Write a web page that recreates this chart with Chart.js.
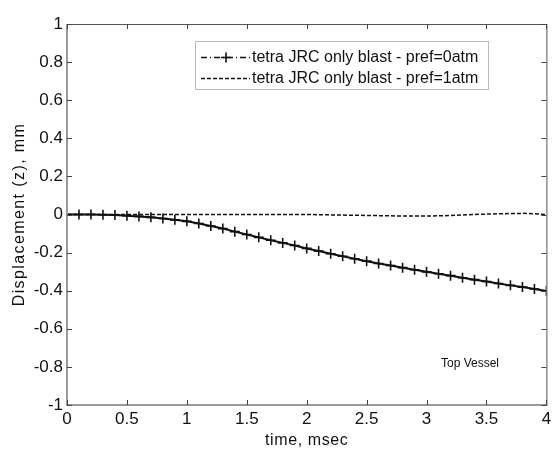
<!DOCTYPE html>
<html>
<head>
<meta charset="utf-8">
<script src="https://cdn.jsdelivr.net/npm/chart.js@4.4.0/dist/chart.umd.min.js"></script>
<style>
    html, body { margin: 0; padding: 0; background: #fff; }
    #wrap { width: 553px; height: 450px; }
</style>
</head>
<body>
<div id="wrap"><canvas id="dispChart" width="553" height="450"></canvas></div>
<script>
//time axis values, msec (one sample every 0.1 ms)
const timeMs = [0, 0.1, 0.2, 0.3, 0.4, 0.5, 0.6, 0.7, 0.8, 0.9,
    1.0, 1.1, 1.2, 1.3, 1.4, 1.5, 1.6, 1.7, 1.8, 1.9,
    2.0, 2.1, 2.2, 2.3, 2.4, 2.5, 2.6, 2.7, 2.8, 2.9,
    3.0, 3.1, 3.2, 3.3, 3.4, 3.5, 3.6, 3.7, 3.8, 3.9, 4.0];
//displacement for pref=0atm, mm
const dispPref0 = [0, 0, 0, -0.001, -0.003, -0.006, -0.010, -0.015, -0.021, -0.028,
    -0.036, -0.047, -0.060, -0.074, -0.090, -0.105, -0.120, -0.135, -0.149, -0.163,
    -0.178, -0.192, -0.206, -0.219, -0.232, -0.245, -0.257, -0.268, -0.279, -0.290,
    -0.301, -0.311, -0.321, -0.332, -0.342, -0.352, -0.362, -0.372, -0.381, -0.391, -0.402];
//displacement for pref=1atm, mm
const dispPref1 = [0, 0, 0, 0, 0, 0, 0, 0, 0, 0,
    0, 0, 0, 0, 0, 0, 0, 0, 0, 0,
    0, -0.001, -0.002, -0.003, -0.004, -0.005, -0.006, -0.007, -0.008, -0.008,
    -0.008, -0.007, -0.005, -0.003, 0, 0.002, 0.004, 0.005, 0.006, 0.004, 0];
const seriesNames = ['tetra JRC only blast - pref=0atm', 'tetra JRC only blast - pref=1atm'];
const xTicks = [0, 0.5, 1, 1.5, 2, 2.5, 3, 3.5, 4];
const yTicks = [-1, -0.8, -0.6, -0.4, -0.2, 0, 0.2, 0.4, 0.6, 0.8, 1];
const xTitle = 'time, msec';
const yTitle = 'Displacement (z), mm';
const noteText = 'Top Vessel';

const FONT = '"Liberation Sans", Arial, sans-serif';

function toPoints(xs, ys) {
    return xs.map((x, i) => ({ x: x, y: ys[i] }));
}

//draws the box, inward ticks (matlab style), axis titles, legend and the note
const matlabFrame = {
    id: 'matlabFrame',
    afterDraw(chart) {
        const ctx = chart.ctx;
        const a = chart.chartArea;
        const xs = chart.scales.x;
        const ys = chart.scales.y;
        ctx.save();
        ctx.strokeStyle = '#555';
        ctx.lineWidth = 1;
        ctx.strokeRect(a.left + 0.5, a.top + 0.5, a.right - a.left, a.bottom - a.top);
        // thicker grey left and bottom edges
        ctx.strokeStyle = '#999';
        ctx.lineWidth = 2;
        ctx.beginPath();
        ctx.moveTo(a.left, a.top);
        ctx.lineTo(a.left, a.bottom);
        ctx.lineTo(a.right, a.bottom);
        ctx.stroke();

        ctx.strokeStyle = '#444';
        ctx.lineWidth = 1;
        ctx.beginPath();
        xTicks.forEach(v => {
            const px = Math.round(xs.getPixelForValue(v)) + 0.5;
            ctx.moveTo(px, a.bottom); ctx.lineTo(px, a.bottom - 5);
            ctx.moveTo(px, a.top); ctx.lineTo(px, a.top + 5);
        });
        yTicks.forEach(v => {
            const py = Math.round(ys.getPixelForValue(v)) + 0.5;
            ctx.moveTo(a.left, py); ctx.lineTo(a.left + 5, py);
            ctx.moveTo(a.right, py); ctx.lineTo(a.right - 5, py);
        });
        ctx.stroke();

        // axis titles (a bit letter spaced like the original)
        ctx.fillStyle = '#111';
        ctx.textAlign = 'center';
        ctx.textBaseline = 'middle';
        ctx.font = '16px ' + FONT;
        ctx.letterSpacing = '0.6px';
        ctx.fillText(xTitle, (a.left + a.right) / 2, 441);
        ctx.save();
        ctx.translate(20, (a.top + a.bottom) / 2);
        ctx.rotate(-Math.PI / 2);
        ctx.letterSpacing = '1.4px';
        ctx.fillText(yTitle, 0, 0);
        ctx.restore();
        ctx.letterSpacing = '0px';

        // legend box
        const lx = 195, ly = 41, lw = 293, lh = 48;
        ctx.fillStyle = '#fff';
        ctx.fillRect(lx, ly, lw, lh);
        ctx.strokeStyle = '#777';
        ctx.setLineDash([1, 1]);
        ctx.strokeRect(lx + 0.5, ly + 0.5, lw, lh);
        ctx.setLineDash([]);

        ctx.strokeStyle = '#111';
        ctx.lineWidth = 1.3;
        // entry 1: dash-dot with plus
        let yy = 57.5;
        ctx.setLineDash([6, 3, 1, 3]);
        ctx.beginPath(); ctx.moveTo(201, yy); ctx.lineTo(250, yy); ctx.stroke();
        ctx.setLineDash([]);
        ctx.lineWidth = 1.6;
        ctx.beginPath();
        ctx.moveTo(221, yy); ctx.lineTo(231, yy);
        ctx.moveTo(226, yy - 5); ctx.lineTo(226, yy + 5);
        ctx.stroke();
        // entry 2: dashed
        yy = 78.5;
        ctx.lineWidth = 1.3;
        ctx.setLineDash([4, 2]);
        ctx.beginPath(); ctx.moveTo(201, yy); ctx.lineTo(250, yy); ctx.stroke();
        ctx.setLineDash([]);

        ctx.fillStyle = '#111';
        ctx.font = '16px ' + FONT;
        ctx.textAlign = 'left';
        ctx.fillText(seriesNames[0], 252, 58);
        ctx.fillText(seriesNames[1], 252, 79);

        // note
        ctx.font = '12px ' + FONT;
        ctx.fillText(noteText, 441, 364);
        ctx.restore();
    }
};

function renderChart() {
    const ctx = document.getElementById('dispChart').getContext('2d');
    new Chart(ctx, {
        type: 'line',
        data: {
            datasets: [{
                label: seriesNames[1],
                data: toPoints(timeMs, dispPref1),
                borderColor: '#111',
                borderWidth: 1.5,
                borderDash: [4, 2],
                pointRadius: 0,
                tension: 0
            }, {
                label: seriesNames[0],
                data: toPoints(timeMs, dispPref0),
                borderColor: '#111',
                borderWidth: 2,
                pointStyle: 'cross',
                pointRadius: 5,
                pointBorderWidth: 1.6,
                pointBorderColor: '#111',
                tension: 0
            }]
        },
        options: {
            responsive: false,
            animation: false,
            layout: { padding: { left: 0, right: 0, top: 24, bottom: 0 } },
            plugins: { legend: { display: false }, tooltip: { enabled: false } },
            scales: {
                x: {
                    type: 'linear',
                    min: 0, max: 4,
                    afterBuildTicks: s => { s.ticks = xTicks.map(v => ({ value: v })); },
                    afterFit: s => { s.height = 45; s.paddingRight = 5; },
                    grid: { display: false, drawTicks: false },
                    border: { display: false },
                    ticks: {
                        color: '#111', padding: 4,
                        font: { family: FONT, size: 17 },
                        maxRotation: 0,
                        callback: v => String(v)
                    }
                },
                y: {
                    min: -1, max: 1,
                    afterBuildTicks: s => { s.ticks = yTicks.map(v => ({ value: v })); },
                    afterFit: s => { s.width = 67; },
                    grid: { display: false, drawTicks: false },
                    border: { display: false },
                    ticks: {
                        color: '#111', padding: 4,
                        font: { family: FONT, size: 17 },
                        callback: v => String(+v.toFixed(1))
                    }
                }
            }
        },
        plugins: [matlabFrame]
    });
}

renderChart();
</script>
</body>
</html>
